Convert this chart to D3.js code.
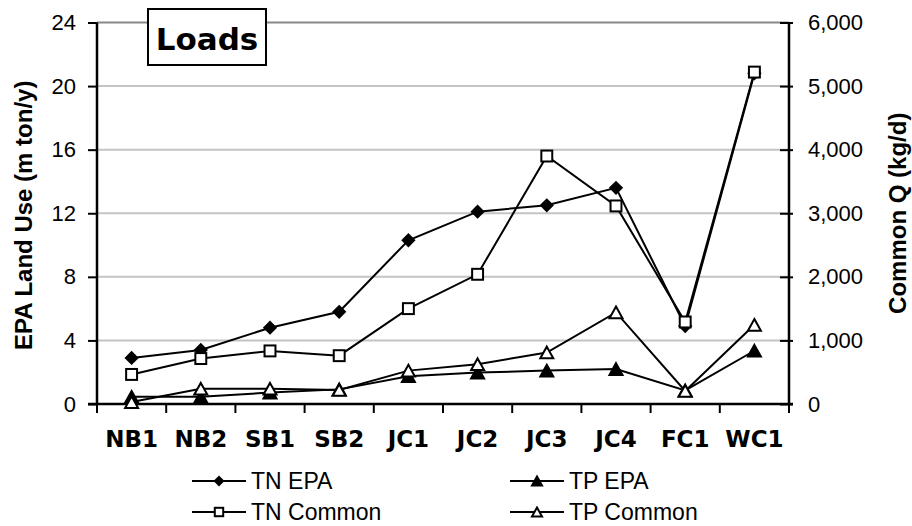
<!DOCTYPE html>
<html>
<head>
<meta charset="utf-8">
<script src="https://cdn.jsdelivr.net/npm/d3@7/dist/d3.min.js"></script>
<style>
  html, body { margin: 0; padding: 0; background: #fff; }
  svg { display: block; }
  .sans { font-family: "Liberation Sans", Arial, sans-serif; }
  .verd { font-family: "DejaVu Sans", Verdana, sans-serif; font-weight: bold; }
</style>
</head>
<body>
<svg id="chart" width="912" height="526"></svg>
<script>
// Sampling sites along the x axis
const categories = ["NB1", "NB2", "SB1", "SB2", "JC1", "JC2", "JC3", "JC4", "FC1", "WC1"];

// EPA land-use loads (m ton/y), left axis
const tnEpa = [2.9, 3.4, 4.8, 5.8, 10.3, 12.1, 12.5, 13.6, 4.9, 20.8];
const tpEpa = [0.45, 0.45, 0.72, 0.92, 1.75, 1.98, 2.1, 2.2, 0.85, 3.35];

// Common Q loads (kg/d), right axis
const tnCommon = [465, 715, 835, 760, 1500, 2040, 3900, 3115, 1290, 5220];
const tpCommon = [30, 240, 240, 220, 525, 625, 810, 1440, 205, 1245];

// Axis ticks
const leftTicks = [0, 4, 8, 12, 16, 20, 24];
const rightTicks = [0, 1000, 2000, 3000, 4000, 5000, 6000];

const svg = d3.select("#chart");
const plot = { left: 97, right: 789, top: 22.5, bottom: 404 };

const x = d3.scaleBand().domain(categories).range([plot.left, plot.right]).padding(0);
const xc = d => x(d) + x.bandwidth() / 2;
const yL = d3.scaleLinear().domain([0, 24]).range([plot.bottom, plot.top]);
const yR = d3.scaleLinear().domain([0, 6000]).range([plot.bottom, plot.top]);

// Horizontal gridlines
svg.append("g").selectAll("line")
  .data(leftTicks.filter(t => t > 0))
  .join("line")
  .attr("x1", plot.left).attr("x2", plot.right)
  .attr("y1", d => yL(d)).attr("y2", d => yL(d))
  .attr("stroke", d => d === 24 ? "#888" : "#c4c4c4")
  .attr("stroke-width", 2);

// Left axis
const leftAxis = d3.axisLeft(yL).tickValues(leftTicks).tickSize(9).tickPadding(12);
const gL = svg.append("g").attr("transform", `translate(${plot.left},0)`).call(leftAxis)
  .attr("font-family", null).attr("font-size", null);
gL.select(".domain").attr("stroke", "#000").attr("stroke-width", 2.5)
  .attr("d", `M0,${plot.top}V${plot.bottom + 1}`);
gL.selectAll(".tick line").attr("stroke", "#000").attr("stroke-width", 2);
gL.selectAll(".tick text").attr("class", "sans").style("font-size", "22px").attr("fill", "#000");

// Right axis (cross ticks)
const rightAxis = d3.axisRight(yR).tickValues(rightTicks).tickSize(4).tickPadding(15)
  .tickFormat(d3.format(","));
const gR = svg.append("g").attr("transform", `translate(${plot.right},0)`).call(rightAxis)
  .attr("font-family", null).attr("font-size", null);
gR.select(".domain").attr("stroke", "#000").attr("stroke-width", 2.5)
  .attr("d", `M0,${plot.top}V${plot.bottom + 1}`);
gR.selectAll(".tick line").attr("stroke", "#000").attr("stroke-width", 2).attr("x1", -9);
gR.selectAll(".tick text").attr("class", "sans").style("font-size", "22px").attr("fill", "#000");

// Bottom axis: ticks at category boundaries
const gB = svg.append("g").attr("transform", `translate(0,${plot.bottom})`);
gB.append("line").attr("x1", plot.left - 9).attr("x2", plot.right + 4)
  .attr("stroke", "#000").attr("stroke-width", 2.5);
const bounds = categories.map(c => x(c)).concat([plot.right]);
gB.selectAll("line.tk").data(bounds).join("line").attr("class", "tk")
  .attr("x1", d => d).attr("x2", d => d).attr("y1", 0).attr("y2", 9)
  .attr("stroke", "#000").attr("stroke-width", 2);
gB.selectAll("text").data(categories).join("text")
  .attr("class", "verd")
  .attr("x", d => xc(d)).attr("y", 43)
  .attr("text-anchor", "middle")
  .style("font-size", "23px")
  .text(d => d);

// Axis titles
svg.append("text")
  .attr("class", "sans")
  .attr("transform", `translate(32,${(plot.top + plot.bottom) / 2 + 2}) rotate(-90)`)
  .attr("text-anchor", "middle")
  .style("font-weight", "bold").style("font-size", "24px")
  .text("EPA Land Use (m ton/y)");
svg.append("text")
  .attr("class", "sans")
  .attr("transform", `translate(906,${(plot.top + plot.bottom) / 2}) rotate(-90)`)
  .attr("text-anchor", "middle")
  .style("font-weight", "bold").style("font-size", "24px")
  .text("Common Q (kg/d)");

// Marker shapes
function marker(g, type, size) {
  if (type === "diamond") {
    const s = size * 0.55;
    g.append("path").attr("d", `M0,${-s}L${s},0L0,${s}L${-s},0Z`).attr("fill", "#000");
  } else if (type === "square") {
    const s = size * 0.42;
    g.append("rect").attr("x", -s).attr("y", -s).attr("width", 2 * s).attr("height", 2 * s)
      .attr("fill", "#fff").attr("stroke", "#000").attr("stroke-width", 2);
  } else if (type === "tri" || type === "triOpen") {
    const w = size * 0.5, h = size * 0.45;
    g.append("path").attr("d", `M0,${-h}L${w},${h}L${-w},${h}Z`)
      .attr("fill", type === "tri" ? "#000" : "#fff")
      .attr("stroke", "#000").attr("stroke-width", 2).attr("stroke-linejoin", "miter");
  }
}

const series = [
  { name: "TN EPA", values: tnEpa, y: yL, type: "diamond" },
  { name: "TP EPA", values: tpEpa, y: yL, type: "tri" },
  { name: "TN Common", values: tnCommon, y: yR, type: "square" },
  { name: "TP Common", values: tpCommon, y: yR, type: "triOpen" }
];

const line = (yScale) => d3.line().x((d, i) => xc(categories[i])).y(d => yScale(d));

series.forEach(s => {
  const g = svg.append("g");
  g.append("path").datum(s.values).attr("d", line(s.y))
    .attr("fill", "none").attr("stroke", "#000").attr("stroke-width", 2);
  s.values.forEach((v, i) => {
    const mg = g.append("g").attr("transform", `translate(${xc(categories[i])},${s.y(v)})`);
    marker(mg, s.type, 13);
  });
});

// Legend
const legendItems = [
  { s: series[0], x: 192, y: 481 },
  { s: series[1], x: 510, y: 481 },
  { s: series[2], x: 192, y: 512 },
  { s: series[3], x: 510, y: 512 }
];
legendItems.forEach(it => {
  const g = svg.append("g").attr("transform", `translate(${it.x},${it.y})`);
  g.append("line").attr("x1", 0).attr("x2", 54).attr("stroke", "#000").attr("stroke-width", 2);
  const mg = g.append("g").attr("transform", "translate(27,0)");
  marker(mg, it.s.type, 10);
  g.append("text").attr("class", "sans").attr("x", 59).attr("y", 8)
    .style("font-size", "23px")
    .text(it.s.name);
});

// Title box
const tg = svg.append("g");
tg.append("rect").attr("x", 148).attr("y", 9).attr("width", 118).attr("height", 56)
  .attr("fill", "#fff").attr("stroke", "#000").attr("stroke-width", 2);
tg.append("text").attr("class", "verd").attr("x", 207).attr("y", 50).attr("text-anchor", "middle")
  .style("font-size", "31px")
  .text("Loads");
</script>
</body>
</html>
